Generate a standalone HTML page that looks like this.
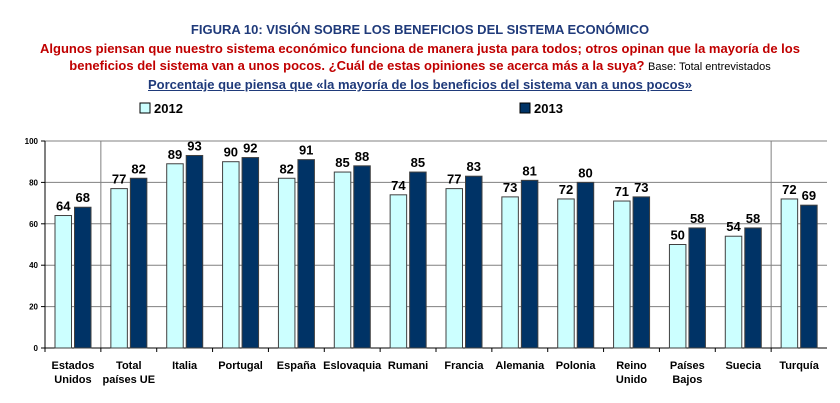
<!DOCTYPE html>
<html><head><meta charset="utf-8"><style>
body{margin:0;width:840px;height:403px;background:#fff;font-family:"Liberation Sans",sans-serif;overflow:hidden}
.t{position:absolute;left:0;width:840px;text-align:center;font-weight:bold;white-space:nowrap}
</style></head><body>
<div class="t" style="top:22px;font-size:13px;color:#1f3a7a">FIGURA 10: VISIÓN SOBRE LOS BENEFICIOS DEL SISTEMA ECONÓMICO</div>
<div class="t" style="top:41px;font-size:13px;color:#c00000">Algunos piensan que nuestro sistema económico funciona de manera justa para todos; otros opinan que la mayoría de los</div>
<div class="t" style="top:58px;font-size:13px;color:#c00000">beneficios del sistema van a unos pocos. ¿Cuál de estas opiniones se acerca más a la suya? <span style="font-weight:normal;color:#000;font-size:11px">Base: Total entrevistados</span></div>
<div class="t" style="top:77px;font-size:13px;color:#1f3a7a;text-decoration:underline">Porcentaje que piensa que «la mayoría de los beneficios del sistema van a unos pocos»</div>
<svg id="c" width="840" height="403" style="position:absolute;left:0;top:0"></svg>
<script>
const categories=[["Estados","Unidos"],["Total","países UE"],["Italia"],["Portugal"],["España"],["Eslovaquia"],["Rumani"],["Francia"],["Alemania"],["Polonia"],["Reino","Unido"],["Países","Bajos"],["Suecia"],["Turquía"]];
const series2012=[64,77,89,90,82,85,74,77,73,72,71,50,54,72];
const series2013=[68,82,93,92,91,88,85,83,81,80,73,58,58,69];
const yTicks=[0,20,40,60,80,100];
const seriesNames=["2012","2013"];
const svg=document.getElementById('c'),NS="http://www.w3.org/2000/svg";
const L=45,R=827,T=141,B=348,cw=(R-L)/categories.length;
const y=v=>B-(v/100)*(B-T);
const x=i=>L+i*cw;
function mk(t,a,name){const e=document.createElementNS(NS,t);for(const k in a)e.setAttribute(k,a[k]);


svg.appendChild(e);return e;}
yTicks.forEach(v=>{
 if(v>0)mk('line',{x1:L,x2:R,y1:y(v),y2:y(v),stroke:'#808080','stroke-width':1},'gridline-'+v);
 const t=mk('text',{x:L-7,y:y(v)+3,'text-anchor':'end','font-size':8,'font-weight':'bold',fill:'#000'},'y-tick-'+v);t.textContent=v;
 mk('line',{x1:L-4,x2:L,y1:y(v),y2:y(v),stroke:'#000'},'y-tick-mark-'+v);
});
mk('line',{x1:x(1),x2:x(1),y1:T,y2:B,stroke:'#808080'},'separator-1');
mk('line',{x1:x(13),x2:x(13),y1:T,y2:B,stroke:'#808080'},'separator-2');
mk('line',{x1:L,x2:L,y1:T,y2:B,stroke:'#000'},'y-axis');
mk('line',{x1:L,x2:R,y1:B,y2:B,stroke:'#000'},'x-axis');
categories.forEach((c,i)=>{
 mk('line',{x1:x(i),x2:x(i),y1:B,y2:B+4,stroke:'#000'},'x-tick-'+i);
 [[series2012,'#ccffff',10],[series2013,'#003366',29.5]].forEach(([s,f,o],k)=>{
  const v=s[i],bx=x(i)+o;
  mk('rect',{x:bx,y:y(v),width:16.5,height:B-y(v),fill:f,stroke:'#404040','stroke-width':1},'bar-'+seriesNames[k]+'-'+i);
  const t=mk('text',{x:bx+8.25,y:y(v)-5,'text-anchor':'middle','font-size':13,'font-weight':'bold',fill:'#000'},'value-label-'+seriesNames[k]+'-'+i);t.textContent=v;
 });
 c.forEach((ln,j)=>{const t=mk('text',{x:x(i)+cw/2,y:369+j*14,'text-anchor':'middle','font-size':11,'font-weight':'bold',fill:'#000'},'x-label-'+i+'-'+j);t.textContent=ln;});
});
[[140,'#ccffff'],[520,'#003366']].forEach(([lx,f],k)=>{
 mk('rect',{x:lx,y:103,width:10,height:10,fill:f,stroke:'#000'},'legend-swatch-'+seriesNames[k]);
 const t=mk('text',{x:lx+14,y:113,'font-size':13,'font-weight':'bold',fill:'#000'},'legend-label-'+seriesNames[k]);t.textContent=seriesNames[k];
});
</script>
</body></html>
